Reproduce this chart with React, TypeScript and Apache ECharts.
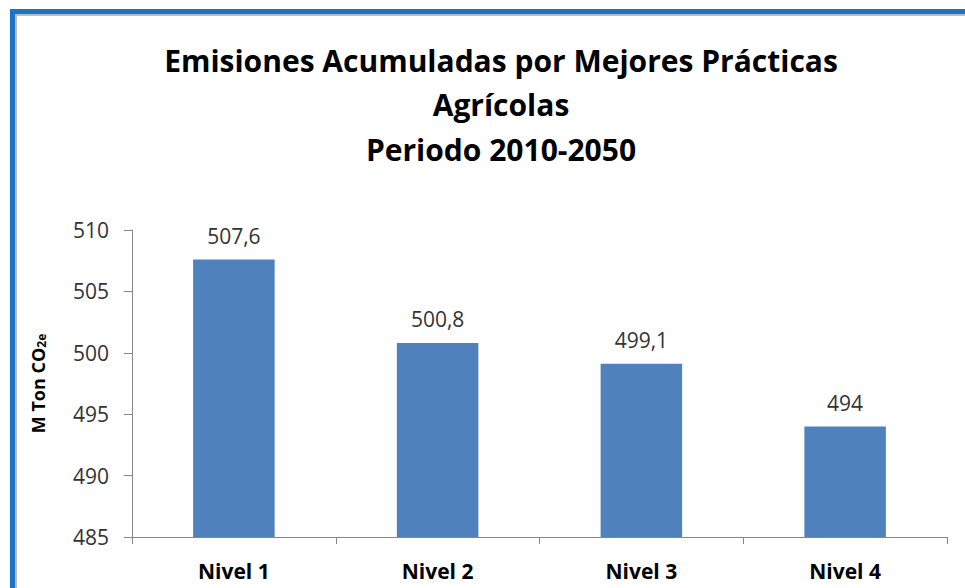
import React, { useEffect, useRef } from "react";
import * as echarts from "echarts";

const categories = ["Nivel 1", "Nivel 2", "Nivel 3", "Nivel 4"];
const values = [507.6, 500.8, 499.1, 494];
const titleLines = ["Emisiones Acumuladas por Mejores Prácticas", "Agrícolas", "Periodo 2010-2050"];

const FONT = "'Open Sans', Lato, sans-serif";

export default function App() {
  const ref = useRef<HTMLDivElement>(null);
  useEffect(() => {
    if (!ref.current) return;
    const chart = echarts.init(ref.current, null, { renderer: "svg" });
    chart.setOption({
      animation: false,
      backgroundColor: "#ffffff",
      title: {
        text: titleLines.join("\n"),
        left: 496,
        top: 33,
        textAlign: "center",
        textStyle: {
          fontFamily: FONT,
          fontSize: 30,
          fontWeight: "bold",
          color: "#000000",
          lineHeight: 44.5,
        },
      },
      graphic: [
        {
          type: "rect",
          shape: { x: 16, y: 15, width: 1000, height: 1000 },
          style: { fill: "none", stroke: "#a6a6a6", lineWidth: 1.5 },
          silent: true,
        },
        {
          type: "rect",
          shape: { x: 12.5, y: 11.5, width: 1000, height: 1000 },
          style: { fill: "none", stroke: "#1a73c6", lineWidth: 5 },
          silent: true,
        },
      ],
      grid: { left: 132, right: 18, top: 230, bottom: 51, containLabel: false },
      xAxis: {
        type: "category",
        data: categories,
        axisLine: { lineStyle: { color: "#868686", width: 1 } },
        axisTick: { show: true, alignWithLabel: false, length: 7, lineStyle: { color: "#868686" } },
        axisLabel: {
          fontFamily: FONT,
          fontSize: 21,
          fontWeight: "bold",
          color: "#000000",
          margin: 23,
        },
      },
      yAxis: {
        type: "value",
        min: 485,
        max: 510,
        interval: 5,
        name: "{a|M Ton CO}{b|2e}",
        nameLocation: "middle",
        nameRotate: 90,
        nameGap: 85,
        nameTextStyle: {
          rich: {
            a: { fontFamily: FONT, fontSize: 18, fontWeight: "bold", color: "#000000" },
            b: { fontFamily: FONT, fontSize: 12, fontWeight: "bold", color: "#000000", padding: [6, 0, 0, 0] },
          },
        },
        splitLine: { show: false },
        axisLine: { show: true, lineStyle: { color: "#868686", width: 1 } },
        axisTick: { show: true, length: 8, lineStyle: { color: "#868686" } },
        axisLabel: {
          fontFamily: FONT,
          fontSize: 21,
          color: "#333333",
          margin: 23,
        },
      },
      series: [
        {
          type: "bar",
          data: values,
          barWidth: "40%",
          itemStyle: { color: "#4f81bd" },
          label: {
            show: true,
            position: "top",
            distance: 13,
            fontFamily: FONT,
            fontSize: 21,
            color: "#333333",
            formatter: (p: any) => String(p.value).replace(".", ","),
          },
        },
      ],
    });
    return () => chart.dispose();
  }, []);
  return (
    <div
      ref={ref}
      style={{ position: "absolute", left: 0, top: 0, width: 965, height: 588 }}
    />
  );
}
